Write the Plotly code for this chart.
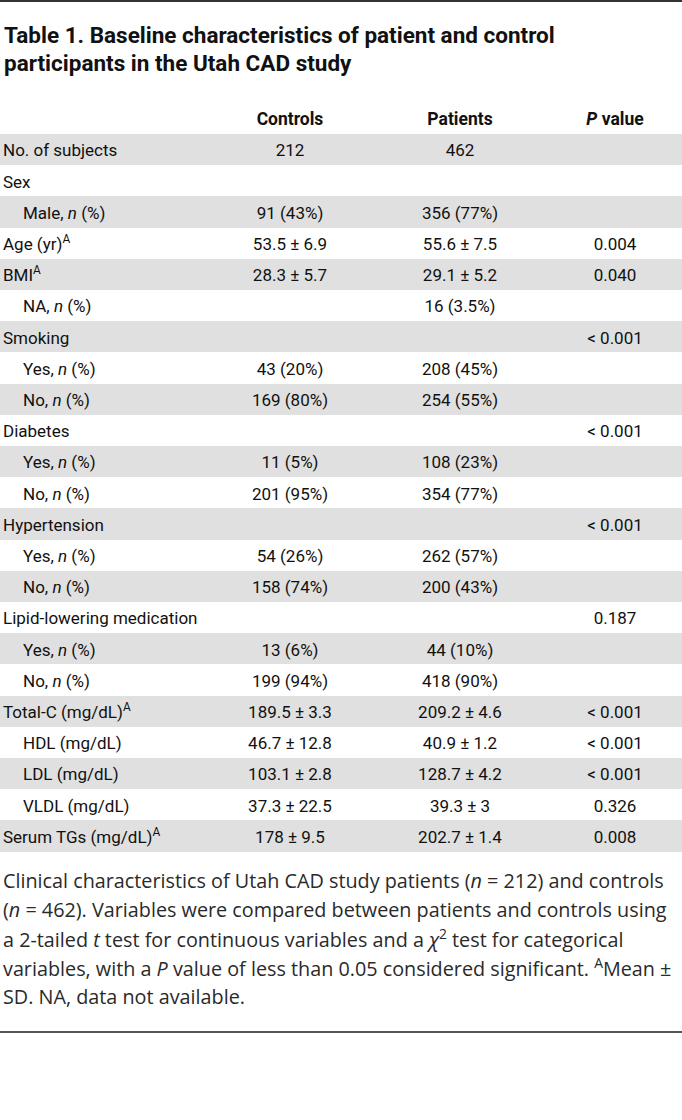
import plotly.graph_objects as go

title_lines = ["Table 1. Baseline characteristics of patient and control",
               "participants in the Utah CAD study"]
headers = ["Controls", "Patients", "<i>P</i> value"]

labels = ["No. of subjects", "Sex", "Male, <i>n</i> (%)", "Age (yr)<sup>A</sup>",
          "BMI<sup>A</sup>", "NA, <i>n</i> (%)", "Smoking", "Yes, <i>n</i> (%)",
          "No, <i>n</i> (%)", "Diabetes", "Yes, <i>n</i> (%)", "No, <i>n</i> (%)",
          "Hypertension", "Yes, <i>n</i> (%)", "No, <i>n</i> (%)",
          "Lipid-lowering medication", "Yes, <i>n</i> (%)", "No, <i>n</i> (%)",
          "Total-C (mg/dL)<sup>A</sup>", "HDL (mg/dL)", "LDL (mg/dL)",
          "VLDL (mg/dL)", "Serum TGs (mg/dL)<sup>A</sup>"]
indent = [0, 0, 1, 0, 0, 1, 0, 1, 1, 0, 1, 1, 0, 1, 1, 0, 1, 1, 0, 1, 1, 1, 0]
controls = ["212", "", "91 (43%)", "53.5 ± 6.9", "28.3 ± 5.7", "", "", "43 (20%)", "169 (80%)",
            "", "11 (5%)", "201 (95%)", "", "54 (26%)", "158 (74%)", "", "13 (6%)", "199 (94%)",
            "189.5 ± 3.3", "46.7 ± 12.8", "103.1 ± 2.8", "37.3 ± 22.5", "178 ± 9.5"]
patients = ["462", "", "356 (77%)", "55.6 ± 7.5", "29.1 ± 5.2", "16 (3.5%)", "", "208 (45%)",
            "254 (55%)", "", "108 (23%)", "354 (77%)", "", "262 (57%)", "200 (43%)", "",
            "44 (10%)", "418 (90%)", "209.2 ± 4.6", "40.9 ± 1.2", "128.7 ± 4.2", "39.3 ± 3",
            "202.7 ± 1.4"]
pvalues = ["", "", "", "0.004", "0.040", "", "< 0.001", "", "", "< 0.001", "", "", "< 0.001",
           "", "", "0.187", "", "", "< 0.001", "< 0.001", "< 0.001", "0.326", "0.008"]
footnote_lines = [
    "Clinical characteristics of Utah CAD study patients (<i>n</i> = 212) and controls",
    "(<i>n</i> = 462). Variables were compared between patients and controls using",
    "a 2-tailed <i>t</i> test for continuous variables and a <i>χ</i><sup>2</sup> test for categorical",
    "variables, with a <i>P</i> value of less than 0.05 considered significant. <sup>A</sup>Mean ±",
    "SD. NA, data not available.",
]

# ---- layout constants (pixels) ----
W, H = 682, 1120
ROW0, ROWH = 134.0, 31.2
TXT_DY = 2.5
COL_X = [290, 460, 615]
LABEL_X, INDENT_X = 3, 23
GRAY = "#e0e0e0"
TFONT = "Roboto"
TSIZE = 17

n = len(labels)
row_c = [ROW0 + ROWH * (i + 0.5) for i in range(n)]
band_rows = [i for i in range(n) if i % 2 == 0]

fig = go.Figure()
fig.add_trace(go.Bar(orientation="h", y=[row_c[i] for i in band_rows], x=[W] * len(band_rows),
                     base=0, width=ROWH, marker=dict(color=GRAY, line=dict(width=0)),
                     hoverinfo="skip", showlegend=False))

fig.add_trace(go.Scatter(mode="text", x=[INDENT_X if lv else LABEL_X for lv in indent],
                         y=[c + TXT_DY for c in row_c], text=labels, textposition="middle right",
                         marker=dict(size=0.1), textfont=dict(family=TFONT, size=TSIZE, color="#111"),
                         hoverinfo="skip", showlegend=False))
for cx, col in zip(COL_X, [controls, patients, pvalues]):
    keep = [i for i, v in enumerate(col) if v]
    fig.add_trace(go.Scatter(mode="text", x=[cx] * len(keep), y=[row_c[i] + TXT_DY for i in keep],
                             text=[col[i] for i in keep], textposition="middle center",
                             textfont=dict(family=TFONT, size=TSIZE, color="#111"),
                             hoverinfo="skip", showlegend=False))
fig.add_trace(go.Scatter(mode="text", x=COL_X, y=[121] * 3, text=headers,
                         textposition="middle center",
                         textfont=dict(family=TFONT, size=17.5, color="#111", weight="bold"),
                         hoverinfo="skip", showlegend=False))

fig.add_shape(type="line", xref="x", yref="y", x0=0, x1=W, y0=1, y1=1,
              line=dict(color="#333", width=2))
fig.add_shape(type="line", xref="x", yref="y", x0=0, x1=W, y0=1032, y1=1032,
              line=dict(color="#555", width=2))

for i, (line, yc) in enumerate(zip(title_lines, [35, 63])):
    fig.add_annotation(text=line, xref="x", yref="y", x=2, y=yc, xanchor="left",
                       yanchor="middle", align="left", showarrow=False,
                       font=dict(family=TFONT, size=22.5, color="#111", weight="bold"))
for i, line in enumerate(footnote_lines):
    fig.add_annotation(text=line, xref="x", yref="y", x=1, y=880 + 29 * i,
                       xanchor="left", yanchor="middle", align="left", showarrow=False,
                       font=dict(family="Open Sans", size=19.8, color="#2a2a2a"))

fig.update_xaxes(range=[0, W], visible=False, fixedrange=True)
fig.update_yaxes(range=[H, 0], visible=False, fixedrange=True)
fig.update_layout(width=W, height=H, margin=dict(l=0, r=0, t=0, b=0),
                  paper_bgcolor="white", plot_bgcolor="white", bargap=0)
fig.write_html("out.html", post_script="document.body.style.margin='0px';",
               config={"displayModeBar": False})
